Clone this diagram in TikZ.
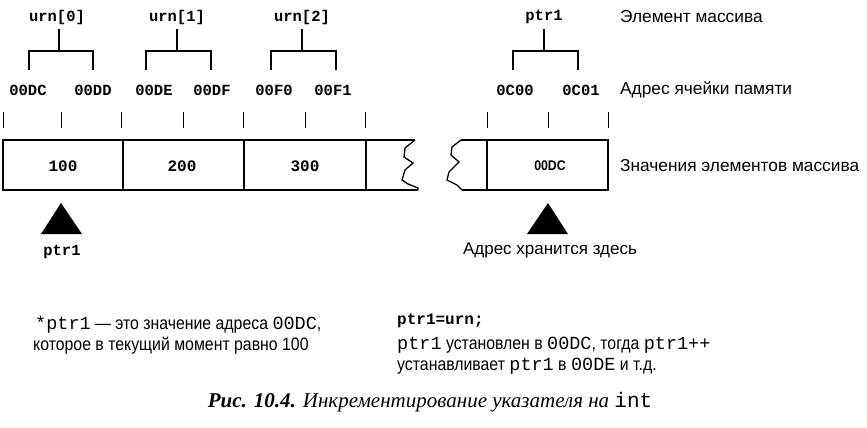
\documentclass[tikz,border=0pt]{standalone}
\usepackage{fontspec}
\setmainfont{Liberation Sans}
\newfontfamily\monof{Liberation Mono}
\newfontfamily\narrowf[FakeStretch=0.88]{Liberation Sans}
\newfontfamily\seriff{Liberation Serif}
\tikzset{
  lbl/.style={font=\monof\bfseries\fontsize{15.5}{15.5}\selectfont, inner sep=0pt},
  val/.style={font=\monof\bfseries\fontsize{16}{16}\selectfont, inner sep=0pt},
  desc/.style={font=\fontsize{17.3}{17.3}\selectfont, anchor=west, inner sep=0pt},
  note/.style={font=\narrowf\fontsize{18}{20}\selectfont, anchor=west, inner sep=0pt},
  brk/.style={line width=1.2pt},
  tickl/.style={line width=0.8pt},
  boxl/.style={line width=1.6pt, line join=miter},
  tri/.style={fill=black}
}
\newcommand{\mt}[1]{{\monof\fontsize{18.5}{20}\selectfont #1}}
\begin{document}
\begin{tikzpicture}[x=1pt,y=-1pt]
\useasboundingbox (0,0) rectangle (867,428);
% array element labels
\node[lbl] (u0) at (57,17) {urn[0]};
\node[lbl] (u1) at (177,17) {urn[1]};
\node[lbl] (u2) at (302,17) {urn[2]};
\node[lbl] (p)  at (544,17) {ptr1};
\node[desc] (d1) at (620,17) {Элемент массива};
% addresses
\node[lbl] (a0) at (28,90) {00DC};
\node[lbl] (a1) at (93,90) {00DD};
\node[lbl] (a2) at (154,90) {00DE};
\node[lbl] (a3) at (212,90) {00DF};
\node[lbl] (a4) at (274,90) {00F0};
\node[lbl] (a5) at (333,90) {00F1};
\node[lbl] (b0) at (515,90) {0C00};
\node[lbl] (b1) at (581,90) {0C01};
\node[desc] (d2) at (620,90) {Адрес ячейки памяти};
% brackets
\draw[brk] (59,29) -- (59,51);
\draw[brk] (29,70) -- (29,51) -- (93,51) -- (93,70);
\draw[brk] (177,29) -- (177,51);
\draw[brk] (146,70) -- (146,51) -- (211,51) -- (211,70);
\draw[brk] (302,29) -- (302,51);
\draw[brk] (271,70) -- (271,51) -- (336,51) -- (336,70);
\draw[brk] (544,29) -- (544,51);
\draw[brk] (513,70) -- (513,51) -- (578,51) -- (578,70);
% ticks
\foreach \x in {3,61,121,183,243,305,365,487,548,608}
  \draw[tickl] (\x,112) -- (\x,128);
% left box
\draw[boxl] (415,140) -- (3,140) -- (3,190) -- (418,190);
\draw[boxl] (123,140) -- (123,190);
\draw[boxl] (244,140) -- (244,190);
\draw[boxl] (366,140) -- (366,190);
\draw[line width=1.3pt] (415,140) -- (405,148) -- (404,157) -- (413,163) -- (405,170) -- (402,180) -- (408,184) -- (418,188) -- (418,190);
% right box
\draw[boxl] (461,140) -- (608,140) -- (608,190) -- (462,190);
\draw[boxl] (487,140) -- (487,190);
\draw[line width=1.3pt] (461,140) -- (452,147) -- (451,155) -- (459,162) -- (449,172) -- (447,180) -- (457,185) -- (462,190);
% values
\node[val] (v0) at (63,166) {100};
\node[val] (v1) at (182,166) {200};
\node[val] (v2) at (305,166) {300};
\node[font=\narrowf\bfseries\fontsize{14}{14}\selectfont, inner sep=0pt] (v3) at (550,166) {00DC};
\node[desc] (d3) at (620,166) {Значения элементов массива};
% triangles
\fill[tri] (61,203) -- (82,234) -- (41,234) -- cycle;
\fill[tri] (548,203) -- (568,234) -- (527,234) -- cycle;
\node[lbl] (pl) at (62,252) {ptr1};
\node[font=\fontsize{17}{17}\selectfont, inner sep=0pt] (here) at (550,250) {Адрес хранится здесь};
% bottom notes
\node[note] (n1) at (35,325) {\mt{*ptr1} — это значение адреса \mt{00DC},};
\node[note] (n2) at (33,346) {которое в текущий момент равно 100};
\node[anchor=west, inner sep=0pt, font=\monof\bfseries\fontsize{16}{16}\selectfont] (n3) at (397,321) {ptr1=urn;};
\node[note] (n4) at (397,345) {\mt{ptr1} установлен в \mt{00DC}, тогда \mt{ptr1++}};
\node[note] (n5) at (397,366) {устанавливает \mt{ptr1} в \mt{00DE} и т.д.};
% caption
\node[font=\seriff\fontsize{21}{21}\selectfont, inner sep=0pt] (cap) at (430,402) {\bfseries\itshape Рис. 10.4. \mdseries Инкрементирование указателя на \upshape\monof int};
\end{tikzpicture}
\end{document}
